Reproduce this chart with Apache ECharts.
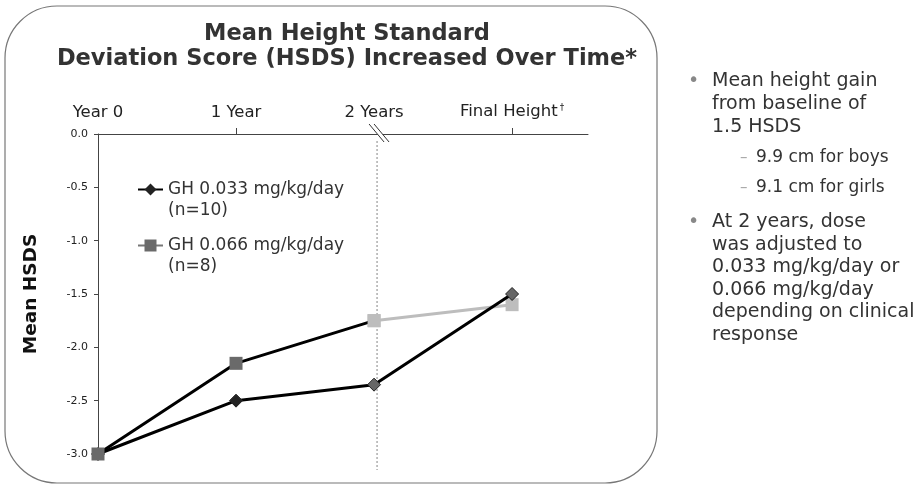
<!DOCTYPE html>
<html>
<head>
<meta charset="utf-8">
<script src="https://cdn.jsdelivr.net/npm/echarts@6/dist/echarts.min.js"></script>
<style>
  html, body { margin: 0; padding: 0; background: #fff; }
  #chart { width: 924px; height: 485px; }
</style>
</head>
<body>
<div id="chart"></div>
<script>
// Time points (x positions on a value axis) and their labels
const timePoints = [0, 1, 2, 3];
const timeLabels = ['Year 0', '1 Year', '2 Years', 'Final Height'];

// Mean HSDS for each dose group
const lowDoseName = 'GH 0.033 mg/kg/day\n(n=10)';
const lowDose = [-3.0, -2.5, -2.35, -1.5];
const highDoseName = 'GH 0.066 mg/kg/day\n(n=8)';
const highDose = [-3.0, -2.15, -1.75, -1.6];

// Y axis ticks
const yMin = -3.0, yMax = 0.0, yStep = 0.5;

// Index at which the dose was adjusted (break in the time axis)
const adjustIndex = 2;

const FONT = '"DejaVu Sans", Verdana, sans-serif';

const chart = echarts.init(document.getElementById('chart'), null, { renderer: 'canvas' });

// Low-dose diamonds: dark before the break, grey after
const lowData = timePoints.map((t, i) => ({
  value: [t, lowDose[i]],
  itemStyle: i < adjustIndex
    ? { color: '#222', borderColor: '#222', borderWidth: 1 }
    : { color: '#666', borderColor: '#222', borderWidth: 1 }
}));

// High-dose: black line up to the break, light grey afterwards
const highDataA = timePoints.slice(0, adjustIndex + 1).map((t, i) => ({
  value: [t, highDose[i]],
  itemStyle: { color: i < adjustIndex ? '#6a6a6a' : '#bdbdbd' }
}));
const highDataB = timePoints.slice(adjustIndex).map((t, j) => ({
  value: [t, highDose[adjustIndex + j]],
  itemStyle: { color: '#bdbdbd' }
}));

const option = {
  animation: false,
  textStyle: { fontFamily: FONT },
  grid: { left: 98, right: 336, top: 134, bottom: 31, containLabel: false },
  legend: {
    orient: 'vertical',
    left: 137,
    top: 158,
    padding: 0,
    itemGap: -7,
    itemWidth: 25,
    itemHeight: 15,
    textStyle: { fontFamily: FONT, fontSize: 17, color: '#333', lineHeight: 21 },
    // leading blank line keeps the icon level with the first text line
    formatter: name => '\n' + name,
    data: [
      { name: lowDoseName, itemStyle: { color: '#222' }, lineStyle: { color: '#000', width: 2 } },
      { name: highDoseName, itemStyle: { color: '#6a6a6a' }, lineStyle: { color: '#777', width: 2 } }
    ]
  },
  xAxis: {
    type: 'value',
    position: 'top',
    min: 0,
    max: 3.55,
    interval: 1,
    splitLine: { show: false },
    axisLine: { show: true, onZero: false, lineStyle: { color: '#444', width: 1 } },
    axisTick: { show: true, inside: false, length: 6, customValues: [1, 3], lineStyle: { color: '#444' } },
    axisLabel: {
      customValues: timePoints,
      margin: 13,
      fontSize: 16.5,
      color: '#222',
      fontFamily: FONT,
      formatter: v => {
        const i = timePoints.indexOf(v);
        if (i < 0) return '';
        return i === timePoints.length - 1 ? timeLabels[i] + '{sup|†}' : timeLabels[i];
      },
      rich: { sup: { fontSize: 9, verticalAlign: 'top', padding: [0, 0, 9, 2], color: '#222' } }
    }
  },
  yAxis: {
    type: 'value',
    min: yMin,
    max: yMax,
    interval: yStep,
    name: 'Mean HSDS',
    nameLocation: 'middle',
    nameRotate: 90,
    nameGap: 57,
    nameTextStyle: { fontFamily: FONT, fontSize: 18.5, fontWeight: 'bold', color: '#111' },
    splitLine: { show: false },
    axisLine: { show: true, onZero: false, lineStyle: { color: '#444', width: 1 } },
    axisTick: { show: true, length: 4, lineStyle: { color: '#444' } },
    axisLabel: { fontSize: 11, color: '#222', margin: 10, fontFamily: FONT, formatter: v => v.toFixed(1) }
  },
  series: [
    {
      name: lowDoseName,
      type: 'line',
      data: lowData,
      symbol: 'diamond',
      symbolSize: 13,
      lineStyle: { color: '#000', width: 3 },
      itemStyle: { color: '#222' },
      z: 3
    },
    {
      name: highDoseName + ' ',
      type: 'line',
      data: highDataB,
      symbol: 'rect',
      symbolSize: 13,
      lineStyle: { color: '#bdbdbd', width: 3 },
      itemStyle: { color: '#bdbdbd' },
      z: 2
    },
    {
      name: highDoseName,
      type: 'line',
      data: highDataA,
      symbol: 'rect',
      symbolSize: 13,
      lineStyle: { color: '#000', width: 3 },
      itemStyle: { color: '#6a6a6a' },
      z: 4
    }
  ]
};

chart.setOption(option);

// Decorations: panel outline, title, dotted divider, axis break and side notes
function decorate() {
  const top = chart.convertToPixel({ gridIndex: 0 }, [timePoints[adjustIndex], yMax]);
  const bot = chart.convertToPixel({ gridIndex: 0 }, [timePoints[adjustIndex], yMin]);
  const bx = top[0], by = top[1];

  const bodyStyle = { font: '19px ' + FONT, fill: '#333' };
  const subStyle = { font: '17px ' + FONT, fill: '#333' };
  const bulletStyle = { font: '19px ' + FONT, fill: '#888', verticalAlign: 'middle' };
  const dashStyle = { font: '15px ' + FONT, fill: '#aaa', verticalAlign: 'middle' };
  const notes = [
    { type: 'text', style: Object.assign({ x: 688, y: 81, text: '•' }, bulletStyle) },
    { type: 'text', style: Object.assign({ x: 712, y: 69.5, text: 'Mean height gain\nfrom baseline of\n1.5 HSDS', lineHeight: 23 }, bodyStyle) },
    { type: 'text', style: Object.assign({ x: 740, y: 158, text: '–' }, dashStyle) },
    { type: 'text', style: Object.assign({ x: 756, y: 158, text: '9.9 cm for boys', verticalAlign: 'middle' }, subStyle) },
    { type: 'text', style: Object.assign({ x: 740, y: 188, text: '–' }, dashStyle) },
    { type: 'text', style: Object.assign({ x: 756, y: 188, text: '9.1 cm for girls', verticalAlign: 'middle' }, subStyle) },
    { type: 'text', style: Object.assign({ x: 688, y: 222, text: '•' }, bulletStyle) },
    { type: 'text', style: Object.assign({ x: 712, y: 210.7, text: 'At 2 years, dose\nwas adjusted to\n0.033 mg/kg/day or\n0.066 mg/kg/day\ndepending on clinical\nresponse', lineHeight: 22.6 }, bodyStyle) }
  ];

  chart.setOption({
    graphic: [
      {
        type: 'rect', z: -10, silent: true,
        shape: { x: 5, y: 6, width: 652, height: 477, r: 52 },
        style: { fill: 'none', stroke: '#777', lineWidth: 1.2 }
      },
      {
        type: 'text', silent: true,
        style: {
          x: 347, y: 21, text: 'Mean Height Standard\nDeviation Score (HSDS) Increased Over Time*',
          font: 'bold 22.5px ' + FONT, fill: '#333', align: 'center', lineHeight: 25.5
        }
      },
      {
        type: 'line', silent: true, z: 1,
        shape: { x1: bx + 3, y1: by + 7, x2: bx + 3, y2: bot[1] + 16 },
        style: { stroke: '#999', lineWidth: 1.2, lineDash: [2, 2] }
      },
      {
        type: 'polygon', silent: true, z: 5,
        shape: { points: [[bx - 5, by - 10], [bx, by - 10], [bx + 15, by + 8], [bx + 10, by + 8]] },
        style: { fill: '#fff' }
      },
      {
        type: 'line', silent: true, z: 6,
        shape: { x1: bx - 5, y1: by - 10, x2: bx + 10, y2: by + 8 },
        style: { stroke: '#333', lineWidth: 1 }
      },
      {
        type: 'line', silent: true, z: 6,
        shape: { x1: bx, y1: by - 10, x2: bx + 15, y2: by + 8 },
        style: { stroke: '#333', lineWidth: 1 }
      }
    ].concat(notes)
  });
}
decorate();
</script>
</body>
</html>
